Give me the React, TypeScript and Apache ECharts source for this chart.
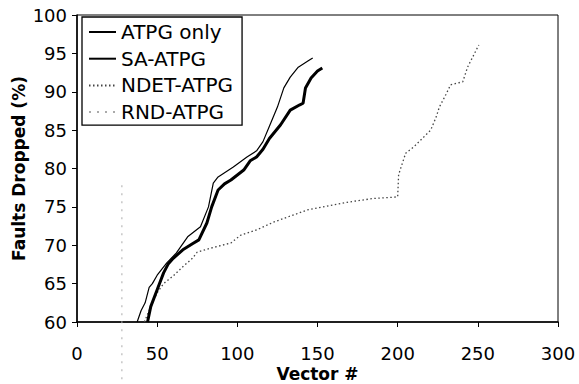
import React, { useEffect, useRef } from "react";
import * as echarts from "echarts";

const xTicks = [0, 50, 100, 150, 200, 250, 300];
const yTicks = [60, 65, 70, 75, 80, 85, 90, 95, 100];

const atpgOnly: [number, number][] = [
  [44, 60], [46, 62], [50, 64.2], [54, 66.4], [57, 67.6], [60, 68.3], [66, 69.4], [72, 70.2],
  [76, 70.7], [81, 72.9], [84, 75], [88, 77.2], [92, 78], [96, 78.5], [104, 79.8],
  [108, 81], [112, 81.5], [116, 82.5], [120, 83.9], [127, 85.7], [133, 87.6],
  [139, 88.3], [141, 88.5], [142.5, 90.5], [146, 91.8], [150, 92.7], [153, 93.1],
];

const saAtpg: [number, number][] = [
  [37.5, 60], [40, 61.5], [42.5, 62.5], [45, 64.5], [47, 65], [50, 66.1], [56, 67.7],
  [62, 69], [69, 71.1], [77, 72.4], [82, 75], [85, 78.1], [88, 78.9], [97.5, 80.2],
  [106, 81.5], [112, 82.3], [116, 83.5], [120, 85.5], [125, 88], [129, 90.5],
  [133, 91.9], [138, 93.2], [144, 94], [147, 94.4],
];

const ndetAtpg: [number, number][] = [
  [42, 60], [46, 62], [50, 63.8], [54, 65], [60, 66], [66, 67.2], [72, 68.3], [75, 69.1],
  [83, 69.6], [96, 70.3], [102, 71.3], [112, 72], [122.5, 73], [143.6, 74.6],
  [168.5, 75.6], [185, 76.1], [200, 76.3], [200.6, 79.2], [205, 82], [210, 82.8],
  [220.6, 85], [224, 86.7], [226, 88], [230, 89.6], [233, 90.9], [240.6, 91.3],
  [243.6, 93.2], [250.6, 96.1],
];

const rndAtpg: [number, number][] = [
  [28, 51.5], [28, 78.5],
];

const seriesNames = ["ATPG only", "SA-ATPG", "NDET-ATPG", "RND-ATPG"];

export default function App() {
  const ref = useRef<HTMLDivElement>(null);
  useEffect(() => {
    if (!ref.current) return;
    const chart = echarts.init(ref.current, undefined, { renderer: "svg" });
    const font = "'DejaVu Sans', sans-serif";
    chart.setOption({
      animation: false,
      textStyle: { fontFamily: font, color: "#000" },
      grid: {
        left: 77, right: 21, top: 15, bottom: 62, show: true, borderColor: "#000", borderWidth: 1,
        containLabel: false, outerBoundsMode: "none",
      },
      legend: {
        orient: "vertical",
        left: 82,
        top: 17,
        data: seriesNames,
        itemWidth: 27,
        itemHeight: 14,
        itemGap: 6.7,
        padding: [5, 9, 3, 6],
        borderColor: "#000",
        borderWidth: 1.3,
        backgroundColor: "#fff",
        itemStyle: { opacity: 0 },
        textStyle: { fontSize: 20, fontFamily: font, color: "#000" },
      },
      xAxis: {
        type: "value",
        min: 0,
        max: 300,
        interval: 50,
        name: "Vector #",
        nameLocation: "middle",
        nameGap: 44,
        nameMoveOverlap: false,
        nameTextStyle: { fontSize: 17, lineHeight: 16, fontWeight: "bold", color: "#000", fontFamily: font },
        axisLine: { show: true, lineStyle: { color: "#000", width: 1.5 } },
        axisTick: { show: true, length: 5, lineStyle: { color: "#000" } },
        axisLabel: { fontSize: 18, lineHeight: 17, color: "#000", margin: 23, fontFamily: font },
        splitLine: { show: false },
      },
      yAxis: {
        type: "value",
        min: 60,
        max: 100,
        interval: 5,
        name: "Faults Dropped (%)",
        nameLocation: "middle",
        nameGap: 50,
        nameMoveOverlap: false,
        nameTextStyle: { fontSize: 17, fontWeight: "bold", color: "#000", fontFamily: font },
        axisLine: { show: true, lineStyle: { color: "#000", width: 1.5 } },
        axisTick: { show: true, length: 5, lineStyle: { color: "#000" } },
        axisLabel: { fontSize: 18, color: "#000", margin: 10, fontFamily: font },
        splitLine: { show: false },
      },
      series: [
        {
          name: seriesNames[0], type: "line", data: atpgOnly, symbol: "none",
          lineStyle: { color: "#000", width: 3 }, itemStyle: { color: "#000" }, z: 4,
        },
        {
          name: seriesNames[1], type: "line", data: saAtpg, symbol: "none",
          lineStyle: { color: "#000", width: 1.2 }, itemStyle: { color: "#000" }, z: 3,
        },
        {
          name: seriesNames[2], type: "line", data: ndetAtpg, symbol: "none",
          lineStyle: { color: "#444", width: 1.3, type: [1.5, 2.5] }, itemStyle: { color: "#444" }, z: 2,
        },
        {
          name: seriesNames[3], type: "line", data: rndAtpg, symbol: "none", clip: false,
          lineStyle: { color: "#aaa", width: 1, type: [2, 6] }, itemStyle: { color: "#aaa" }, z: 1,
        },
      ],
    });
    return () => chart.dispose();
  }, []);
  return <div ref={ref} style={{ width: 579, height: 384, position: "absolute", left: 0, top: 0 }} />;
}
